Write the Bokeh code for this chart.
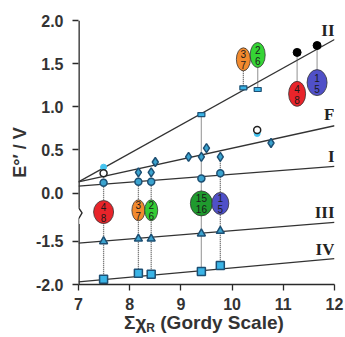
from bokeh.plotting import figure
from bokeh.models import FixedTicker, ColumnDataSource, Div
from bokeh.layouts import column
from bokeh.core.properties import value
from bokeh.embed import file_html
from bokeh.resources import INLINE

# ---------------- data ----------------
# y-axis is broken between 0.0 and -1.5: values below the break are shifted up by OFFSET
OFFSET = 0.94

def disp(vals):
    return [v + OFFSET if v < -1.0 else v for v in vals]

# fitted lines (end points at x = 7 and x = 12)
line_x = [7, 12]
line_II = [0.13, 1.78]
line_F = [0.13, 0.78]
line_I = [0.08, 0.31]
line_III = [-1.52, -1.28]
line_IV = [-1.97, -1.70]

# compound columns
col_x = [7.49, 8.17, 8.42, 9.40, 9.77]
I_y = [0.12, 0.13, 0.13, 0.17, 0.23]
III_y = [-1.50, -1.47, -1.47, -1.41, -1.38]
IV_y = [-1.94, -1.87, -1.88, -1.85, -1.78]
col_top = [0.30, 0.24, 0.24, 0.91, 0.42]

F_x = [8.17, 8.42, 8.50, 9.15, 9.40, 9.50, 9.77, 10.76]
F_y = [0.24, 0.24, 0.36, 0.42, 0.42, 0.52, 0.42, 0.58]
open_x = [7.49, 10.49]
open_y = [0.23, 0.73]
cyan_x = [7.49, 10.49]
cyan_y = [0.30, 0.69]

II_x = [9.40, 10.22, 10.50]
II_y = [0.91, 1.22, 1.20]
black_x = [11.27, 11.66]
black_y = [1.63, 1.71]

# numbered ellipse tags (upper group)
up_x = [10.22, 10.50, 11.27, 11.66]
up_from = [1.22, 1.20, 1.63, 1.71]
up_y = [1.55, 1.60, 1.15, 1.28]
up_top = ["3", "2", "4", "1"]
up_bot = ["7", "6", "8", "5"]
up_col = ["#f28a2e", "#35d435", "#e8242a", "#5050c8"]
up_w = [14, 15, 17, 20]
up_h = [23, 25, 25, 26]

# numbered ellipse tags (break region)
lo_x = [7.49, 8.17, 8.42, 9.40, 9.77]
lo_y = [-0.22, -0.20, -0.20, -0.12, -0.12]
lo_top = ["4", "3", "2", "15", "1"]
lo_bot = ["8", "7", "6", "16", "5"]
lo_col = ["#e8242a", "#f28a2e", "#35cc35", "#1f9a2e", "#5050c8"]
lo_w = [20, 13, 13, 22, 17]
lo_h = [23, 21, 21, 25, 22]

series_names = ["II", "F", "I", "III", "IV"]
series_name_y = [1.88, 0.91, 0.42, -1.16, -1.59]

x_ticks = [7, 8, 9, 10, 11, 12]
y_tick_vals = [2.0, 1.5, 1.0, 0.5, 0.0, -1.5, -2.0]
y_tick_labels = ["2.0", "1.5", "1.0", "0.5", "0.0", "-1.5", "-2.0"]

# axis-break position (display units)
BREAK_TOP = -0.17
BREAK_BOT = -0.36

# ---------------- figure ----------------
FONT = "Liberation Sans"
Y0, Y1 = -2.0 + OFFSET, 2.0
p = figure(width=345, height=313, x_range=(7, 12), y_range=(Y0, Y1),
           output_backend="svg", toolbar_location=None,
           min_border_left=78, min_border_right=11, min_border_top=20, min_border_bottom=29)
p.grid.visible = False
p.outline_line_color = None
p.background_fill_color = "white"

axcol = "#2a2a2a"
for ax in (p.xaxis[0], p.yaxis[0]):
    ax.axis_line_color = axcol
    ax.axis_line_width = 1.3
    ax.major_tick_line_color = axcol
    ax.major_tick_line_width = 1.3
    ax.major_tick_in = 0
    ax.major_tick_out = 6
    ax.minor_tick_line_color = None
    ax.major_label_text_font = FONT
    ax.major_label_text_font_style = "bold"
    ax.major_label_text_font_size = "16px"
    ax.major_label_text_color = "#333333"

p.xaxis.ticker = FixedTicker(ticks=x_ticks)
p.xaxis.major_label_standoff = 7

ytick_disp = disp(y_tick_vals)
p.yaxis.ticker = FixedTicker(ticks=ytick_disp)
p.yaxis.major_label_overrides = {t: s for t, s in zip(ytick_disp, y_tick_labels)}
p.yaxis.major_label_standoff = 9
p.yaxis.axis_line_color = None          # drawn below, with the break
p.yaxis.axis_label = "E°′ / V"
p.yaxis.axis_label_text_font = FONT
p.yaxis.axis_label_text_font_style = "bold"
p.yaxis.axis_label_text_font_size = "18px"
p.yaxis.axis_label_text_color = "#333333"
p.yaxis.axis_label_standoff = 3

# broken y-axis line (half of the width is clipped by the frame edge)
p.segment(x0=[7, 7], y0=[Y1, BREAK_BOT], x1=[7, 7], y1=[BREAK_TOP, Y0],
          line_color=axcol, line_width=2.6)
p.line([7.0, 7.07, 7.0, 7.0], [BREAK_TOP, -0.23, -0.30, BREAK_BOT],
       line_color=axcol, line_width=1.4)

# ---------------- fitted lines ----------------
lc = "#333333"
for ys in (line_II, line_F, line_I):
    p.line(line_x, ys, line_color=lc, line_width=1.3)
for ys in (line_III, line_IV):
    p.line(line_x, disp(ys), line_color=lc, line_width=1.3)

# ---------------- dotted connectors ----------------
dot_c = "#555555"
p.segment(x0=col_x, y0=col_top, x1=col_x, y1=disp(IV_y),
          line_color=dot_c, line_dash="1 1", line_width=1.3)
p.segment(x0=up_x, y0=up_from, x1=up_x, y1=up_y,
          line_color=dot_c, line_dash="1 1", line_width=1.3)

# ---------------- markers ----------------
mfill = "#3aa3cf"
medge = "#1d4f73"
p.scatter(col_x, I_y, marker="circle", size=7, fill_color=mfill, line_color=medge, line_width=1.5)
p.scatter(F_x, F_y, marker="diamond", size=9, fill_color=mfill, line_color=medge, line_width=1.5)
p.scatter(cyan_x, cyan_y, marker="circle", size=6, fill_color="#45c4f0", line_color="#45c4f0")
p.scatter(open_x, open_y, marker="circle", size=7, fill_color="white", line_color="#222222", line_width=1.5)
p.scatter(col_x, disp(III_y), marker="triangle", size=8, fill_color=mfill, line_color=medge, line_width=1.5)
p.scatter(col_x, disp(IV_y), marker="square", size=8, fill_color="#3ab4e6", line_color=medge, line_width=1.5)
p.rect(II_x, II_y, width=7, height=4, width_units="screen", height_units="screen",
       fill_color="#3ab4e6", line_color=medge, line_width=1.2)
p.scatter(black_x, black_y, marker="circle", size=8, fill_color="black", line_color="black")

# ---------------- ellipse tags ----------------
def tags(xs, ys, tops, bots, cols, ws, hs):
    src = ColumnDataSource(dict(x=xs, y=ys, t=tops, b=bots, c=cols, w=ws, h=hs))
    p.ellipse(x="x", y="y", width="w", height="h", width_units="screen", height_units="screen",
              source=src, fill_color="c", line_color="#333333", line_width=0.8)
    p.text(x="x", y="y", text="t", source=src, y_offset=-5, text_align="center", text_baseline="middle",
           text_font=value(FONT), text_font_size="10px", text_color="#1a1a1a")
    p.text(x="x", y="y", text="b", source=src, y_offset=6, text_align="center", text_baseline="middle",
           text_font=value(FONT), text_font_size="10px", text_color="#1a1a1a")

tags(up_x, up_y, up_top, up_bot, up_col, up_w, up_h)
tags(lo_x, lo_y, lo_top, lo_bot, lo_col, lo_w, lo_h)

# ---------------- series names ----------------
p.text(x=[12] * len(series_names), y=disp(series_name_y), text=series_names,
       text_align="right", text_baseline="middle",
       text_font=value("Liberation Serif"), text_font_style="bold",
       text_font_size="17px", text_color="#222222")

# ---------------- x-axis title (with subscript R) ----------------
xtitle = Div(
    text=('<div style="font-family:\'Liberation Sans\',Arial,sans-serif;font-weight:bold;'
          'font-size:19px;line-height:20px;color:#333333;white-space:nowrap;padding-left:124px;">'
          'Σχ<span style="font-size:12px;position:relative;top:3px;">R</span> (Gordy Scale)</div>'),
    width=345, height=23, margin=(0, 0, 0, 0))

layout = column(p, xtitle, spacing=0)
open("out.html", "w").write(file_html(layout, INLINE))
